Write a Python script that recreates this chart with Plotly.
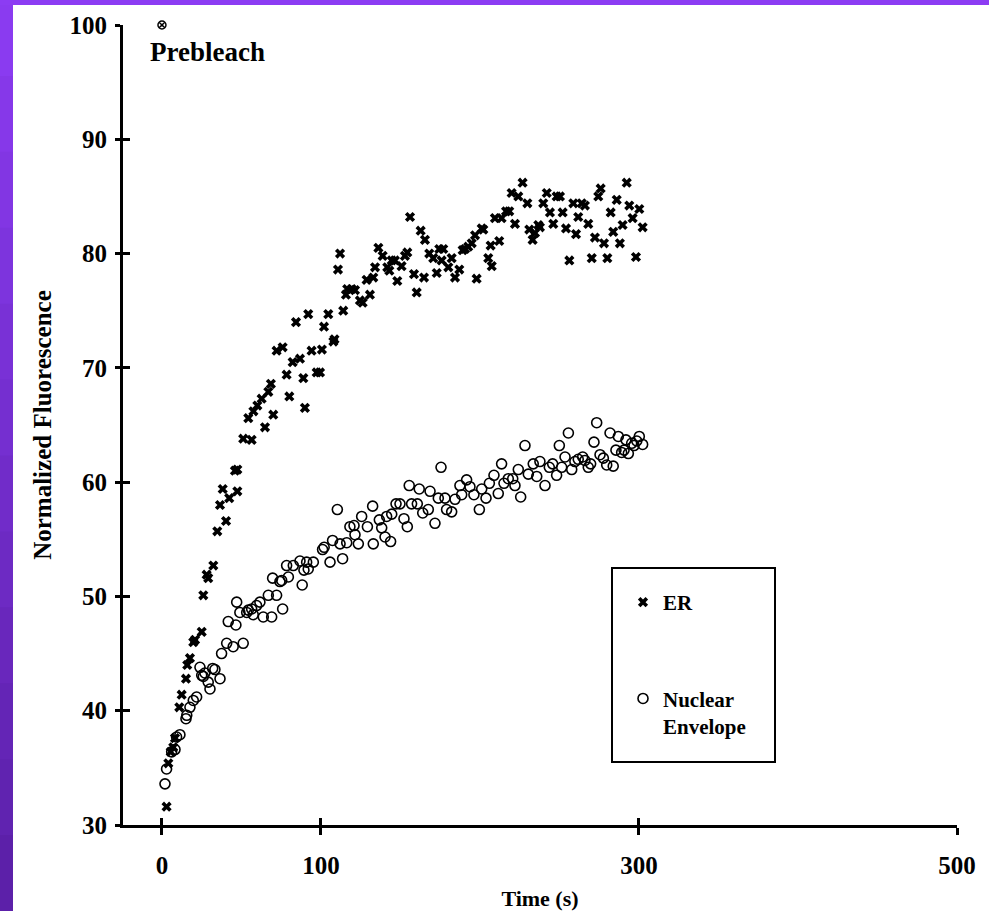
import plotly.graph_objects as go

# ---------------- data ----------------
er_t = [2.9, 4.0, 5.5, 7.1, 8.2, 10.9, 12.4, 15.1, 15.9, 17.6, 19.7, 20.8, 25.0, 26.0, 28.1, 29.1,
        32.3, 34.8, 36.5, 38.2, 40.3, 42.3, 45.9, 47.4, 47.4, 51.1, 54.3, 56.4, 57.5, 60.0, 62.7,
        64.8, 66.9, 68.5, 70.0, 72.1, 75.9, 78.4, 80.1, 82.2, 84.3, 86.8, 88.9, 89.9, 92.0, 94.1,
        97.3, 99.4, 100.6, 101.9, 104.6, 107.8, 108.5, 110.7, 112.0, 114.0, 115.7, 116.5, 119.3,
        121.4, 124.5, 126.2, 128.7, 130.8, 132.9, 134.0, 136.1, 138.8, 141.7, 143.0, 144.5, 146.5,
        148.0, 150.7, 152.8, 154.3, 156.0, 158.5, 160.2, 162.7, 164.8, 165.4, 168.1, 170.6, 172.8,
        174.4, 175.9, 176.9, 180.1, 182.2, 184.3, 187.0, 189.1, 190.6, 192.6, 194.8, 196.9, 197.9,
        201.1, 202.1, 205.2, 206.7, 207.4, 209.4, 212.1, 213.6, 216.4, 218.4, 219.9, 222.0, 224.1,
        226.8, 229.8, 231.0, 233.1, 234.6, 236.7, 237.7, 239.8, 242.0, 244.0, 246.1, 248.2, 250.3,
        252.0, 254.1, 256.2, 258.7, 260.4, 261.8, 264.0, 266.0, 268.1, 270.3, 272.3, 274.4, 275.9,
        278.0, 280.1, 282.2, 283.8, 286.0, 288.0, 289.7, 292.3, 293.9, 296.0, 298.1, 300.2, 302.3]
er_v = [31.6, 35.4, 36.4, 36.8, 37.6, 40.3, 41.4, 42.8, 44.0, 44.6, 46.0, 46.2, 46.9, 50.1, 51.9, 51.6,
        52.7, 55.7, 58.0, 59.4, 56.6, 58.6, 61.0, 61.1, 59.2, 63.8, 65.6, 63.7, 66.2, 66.7, 67.3,
        64.8, 67.9, 68.6, 65.9, 71.5, 71.8, 69.4, 67.5, 70.5, 74.0, 70.8, 69.1, 66.5, 74.7, 71.5,
        69.6, 69.6, 71.6, 73.6, 74.7, 72.3, 72.5, 78.6, 80.0, 75.0, 76.4, 76.9, 76.9,
        76.8, 75.9, 75.7, 77.7, 76.4, 77.9, 78.8, 80.5, 79.8, 78.8, 78.5, 79.4, 79.4,
        77.6, 78.9, 79.8, 80.1, 83.2, 78.2, 76.6, 82.0, 77.9, 81.2, 80.0, 79.6, 78.3,
        80.4, 79.4, 80.4, 78.8, 79.6, 77.9, 78.6, 80.3, 80.4, 80.6, 80.9, 81.6, 77.8,
        82.2, 82.1, 79.6, 80.7, 78.9, 83.1, 81.1, 83.1, 83.7, 83.7, 85.3, 82.6, 85.0,
        86.2, 84.4, 82.1, 81.2, 81.8, 82.5, 82.3, 84.4, 85.3, 83.6, 82.6, 85.0, 85.0,
        83.6, 82.2, 79.4, 84.4, 81.7, 83.2, 84.4, 84.2, 82.6, 79.6, 81.4, 85.0, 85.7,
        80.9, 79.6, 83.6, 81.9, 84.7, 80.9, 82.5, 86.2, 84.2, 83.1, 79.7, 83.9, 82.3]

ne_t = [1.9, 2.9, 6.1, 8.2, 9.2, 11.3, 15.1, 15.6, 17.6, 19.7, 21.8, 23.9, 25.0, 26.0, 27.0, 29.1,
        30.2, 31.9, 33.3, 36.5, 37.5, 40.7, 41.7, 44.8, 46.5, 47.0, 49.0, 51.1, 53.3, 54.3, 56.4,
        57.4, 59.5, 61.6, 63.7, 66.9, 69.0, 69.6, 72.1, 74.2, 75.3, 75.9, 78.4, 79.5, 82.6, 86.8,
        88.2, 89.3, 91.0, 92.0, 95.2, 101.0, 102.0, 105.7, 107.3, 110.3, 112.0, 113.6, 116.2,
        118.2, 120.8, 121.4, 123.5, 125.6, 129.2, 132.5, 132.9, 136.7, 138.2, 140.3, 141.3, 143.8,
        144.5, 147.2, 149.7, 152.2, 154.3, 155.5, 157.0, 160.6, 161.8, 164.0, 167.5, 168.6, 171.7,
        173.8, 175.5, 178.0, 179.0, 182.2, 184.3, 187.4, 188.5, 191.6, 193.7, 196.2, 199.6, 201.1,
        203.8, 205.9, 208.8, 211.5, 213.6, 215.1, 217.8, 220.6, 222.0, 224.1, 225.6, 228.3, 230.4,
        233.5, 235.7, 237.7, 240.9, 243.6, 245.7, 248.2, 249.9, 251.4, 253.5, 255.6, 257.7, 259.7,
        261.8, 264.6, 266.0, 268.1, 269.6, 271.7, 273.4, 275.5, 277.6, 279.7, 281.8, 283.8, 285.5,
        287.0, 289.1, 290.6, 291.8, 293.3, 295.4, 296.9, 298.6, 300.2, 302.3]
ne_v = [33.6, 34.9, 36.4, 36.6, 37.7, 37.9, 39.3, 39.6, 40.3, 40.9, 41.2, 43.8, 43.1, 43.0, 43.3, 42.5,
        41.9, 43.7, 43.6, 42.8, 45.0, 45.9, 47.8, 45.6, 47.5, 49.5, 48.6, 45.9, 48.6, 48.8, 48.9,
        48.4, 49.2, 49.5, 48.2, 50.1, 48.2, 51.6, 50.1, 51.3, 51.4, 48.9, 52.7, 51.7, 52.7, 53.1,
        51.0, 52.3, 53.0, 52.4, 53.0, 54.1, 54.3, 53.0, 54.9, 57.6, 54.6, 53.3, 54.7,
        56.1, 56.2, 55.4, 54.6, 57.0, 56.1, 57.9, 54.6, 56.7, 56.0, 55.2, 57.0, 54.8,
        57.2, 58.1, 58.1, 56.8, 56.1, 59.7, 58.1, 58.1, 59.4, 57.3, 57.6, 59.2, 56.4,
        58.6, 61.3, 58.6, 57.6, 57.4, 58.5, 59.7, 58.9, 60.2, 59.6, 58.9, 57.6, 59.4,
        58.6, 59.9, 60.6, 59.0, 61.6, 59.9, 60.3, 60.3, 59.7, 61.1, 58.7, 63.2, 60.7,
        61.6, 60.5, 61.8, 59.7, 61.3, 61.6, 60.6, 63.2, 61.3, 62.2, 64.3, 61.1, 61.8,
        62.0, 62.2, 61.9, 61.3, 61.6, 63.5, 65.2, 62.4, 62.1, 61.5, 64.3, 61.4, 62.8,
        64.0, 62.6, 62.8, 63.7, 62.5, 63.4, 63.2, 63.6, 64.0, 63.3]

pre_t = [0]
pre_v = [100]

x_ticks = [0, 100, 300, 500]
y_ticks = [30, 40, 50, 60, 70, 80, 90, 100]
x_range = [-24.5, 500]
y_range = [30, 100]

# ---------------- layout geometry ----------------
W, H = 989, 911
ML, MR, MT, MB = 123, 32, 25, 86
PW, PH = W - ML - MR, H - MT - MB


def px_x(p):
    return (p - ML) / PW


def px_y(p):
    return (H - MB - p) / PH


FONT = "Liberation Serif"

fig = go.Figure()
fig.add_trace(go.Scatter(
    x=er_t, y=er_v, mode="markers", name="ER", legendgroup="er",
    marker=dict(symbol="x", size=9, color="black", line=dict(width=0)),
    cliponaxis=False))
fig.add_trace(go.Scatter(
    x=ne_t, y=ne_v, mode="markers", name="Nuclear<br>Envelope", legendgroup="ne",
    marker=dict(symbol="circle-open", size=10, color="black", line=dict(width=1.6, color="black")),
    cliponaxis=False))
fig.add_trace(go.Scatter(
    x=pre_t, y=pre_v, mode="markers", showlegend=False, xaxis="x2", yaxis="y2",
    marker=dict(symbol="circle-x-open", size=8, color="black", line=dict(width=1.5, color="black")),
    cliponaxis=False))

tickfont = dict(family=FONT, size=25, color="black", weight="bold")
common = dict(showgrid=False, zeroline=False, tickcolor="black", tickwidth=2.5)

fig.update_layout(
    width=W, height=H,
    margin=dict(l=ML, r=MR, t=MT, b=MB, pad=0, autoexpand=False),
    paper_bgcolor="white", plot_bgcolor="rgba(0,0,0,0)",
    font=dict(family=FONT, color="black"),
    xaxis=dict(range=x_range, tickmode="array", tickvals=x_ticks, ticks="outside", ticklen=7,
               showline=True, linewidth=3, linecolor="black", tickfont=tickfont,
               ticklabelstandoff=9, automargin=True,
               title=dict(text="Time (s)", font=dict(family=FONT, size=22, weight="bold"), standoff=19),
               **common),
    yaxis=dict(range=y_range, tickmode="array", tickvals=y_ticks, ticks="outside", ticklen=5,
               showline=True, linewidth=3, linecolor="black", tickfont=tickfont,
               ticklabelstandoff=3, automargin=True,
               title=dict(text="Normalized Fluorescence", font=dict(family=FONT, size=25, weight="bold"),
                          standoff=11),
               **common),
    xaxis2=dict(range=x_range, overlaying="x", anchor="y2", tickmode="array", tickvals=x_ticks,
                ticks="inside", ticklen=7, showticklabels=False, showline=False, automargin=False,
                **common),
    yaxis2=dict(range=y_range, overlaying="y", anchor="x2", tickmode="array", tickvals=y_ticks,
                ticks="inside", ticklen=7, showticklabels=False, showline=False, automargin=False,
                **common),
    legend=dict(x=px_x(623), y=px_y(582), xanchor="left", yanchor="top",
                bgcolor="rgba(0,0,0,0)", borderwidth=0, tracegroupgap=66, valign="top",
                font=dict(family=FONT, size=21, color="black", weight="bold")),
    showlegend=True,
)

# legend frame
fig.add_shape(type="rect", xref="paper", yref="paper",
              x0=px_x(612), x1=px_x(775), y0=px_y(762), y1=px_y(568),
              line=dict(color="black", width=2), fillcolor="rgba(0,0,0,0)")

# "Prebleach" label
fig.add_annotation(x=pre_t[0], y=pre_v[0], xref="x2", yref="y2", text="Prebleach",
                   showarrow=False, xanchor="left", yanchor="top", xshift=-14, yshift=-10,
                   font=dict(family=FONT, size=27, color="black", weight="bold"))

# purple frame strips (top and left), with a vertical gradient on the left
top_c = (140, 60, 243)
bot_c = (90, 31, 166)
n = 12
for i in range(n):
    f = (i + 0.5) / n
    c = tuple(int(round(top_c[k] + (bot_c[k] - top_c[k]) * f)) for k in range(3))
    fig.add_shape(type="rect", xref="paper", yref="paper", layer="below",
                  x0=px_x(0), x1=px_x(13), y0=px_y(H * (i + 1) / n + 1), y1=px_y(H * i / n),
                  line=dict(width=0), fillcolor="rgb(%d,%d,%d)" % c)
fig.add_shape(type="rect", xref="paper", yref="paper", layer="below",
              x0=px_x(0), x1=px_x(W), y0=px_y(5), y1=px_y(0),
              line=dict(width=0), fillcolor="rgb(%d,%d,%d)" % top_c)

fig.write_html("out.html", config={"displayModeBar": False},
               post_script="document.body.style.margin='0';"
                           "document.body.style.overflow='hidden';")
